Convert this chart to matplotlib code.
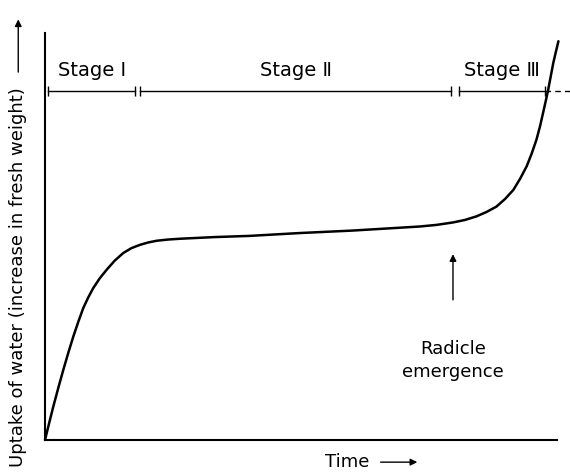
import matplotlib
matplotlib.use("Agg")
import matplotlib.pyplot as plt

# water uptake curve (time, uptake), both on a 0-100 scale
time = [0, 0.8, 1.62, 2.6, 3.57, 4.55, 5.53, 6.5, 7.48, 8.45, 9.43, 10.7, 12.05,
        13.6, 15.29, 16.9, 18.55, 20.2, 21.8, 24.0, 26.4, 33.0, 40.0, 49.8, 60.0,
        73.2, 76.5, 79.7, 82.0, 84.3, 86.3, 88.2, 89.9, 91.5, 92.8, 94.1, 95.1,
        96.0, 96.7, 97.3, 97.8, 98.3, 98.8, 99.3, 99.8, 100.3]
uptake = [0, 4.1, 8.2, 12.8, 17.2, 21.4, 25.4, 29.0, 32.4, 35.0, 37.3, 39.7, 41.8,
          44.0, 45.9, 47.1, 47.9, 48.5, 48.9, 49.2, 49.4, 49.8, 50.1, 50.8, 51.4,
          52.4, 52.8, 53.4, 54.0, 54.9, 56.0, 57.3, 59.2, 61.4, 64.1, 67.2, 70.4,
          73.7, 77.0, 80.3, 83.1, 86.0, 89.3, 92.6, 95.3, 97.9]

# stage bars: label, start, end
stage_labels = ["Stage I", "Stage Ⅱ", "Stage Ⅲ"]
stage_start = [0.6, 18.6, 80.8]
stage_end = [17.6, 79.3, 97.7]
stage_level = 85.6

emergence_time = 79.7

fig = plt.figure(figsize=(5.7, 4.74), dpi=100)
ax = fig.add_axes([0.079, 0.072, 0.898, 0.859])
ax.set_xlim(0, 100)
ax.set_ylim(0, 100)

ax.plot(time, uptake, color="black", lw=1.8, clip_on=False,
        solid_joinstyle="round", solid_capstyle="round")

for lab, s, e in zip(stage_labels, stage_start, stage_end):
    ax.plot([s, e], [stage_level, stage_level], color="black", lw=1.0,
            marker="|", markersize=7, mew=1.0)
    ax.text((s + e) / 2, stage_level + 2.8, lab, ha="center", va="bottom",
            fontsize=14)
# dashed continuation after stage III
ax.plot([stage_end[-1], 102.5], [stage_level, stage_level], color="black",
        lw=1.0, ls=(0, (4, 3)), clip_on=False)

# radicle emergence
ax.annotate("", xy=(emergence_time, 46.3), xytext=(emergence_time, 33.7),
            arrowprops=dict(arrowstyle="-|>", color="black", lw=1.0,
                            mutation_scale=10))
ax.text(emergence_time, 24.5, "Radicle\nemergence", ha="center", va="top",
        fontsize=13, linespacing=1.35)

for side in ["top", "right"]:
    ax.spines[side].set_visible(False)
for side in ["left", "bottom"]:
    ax.spines[side].set_linewidth(1.5)
ax.set_xticks([])
ax.set_yticks([])

# axis labels with arrows
fig.text(0.032, 0.415, "Uptake of water (increase in fresh weight)", rotation=90,
         ha="center", va="center", fontsize=13)
fig.add_artist(matplotlib.patches.FancyArrowPatch(
    (0.032, 0.842), (0.032, 0.965), transform=fig.transFigure,
    arrowstyle="-|>", mutation_scale=10, color="black", lw=1.0))
fig.text(0.609, 0.025, "Time", ha="center", va="center", fontsize=13)
fig.add_artist(matplotlib.patches.FancyArrowPatch(
    (0.663, 0.025), (0.737, 0.025), transform=fig.transFigure,
    arrowstyle="-|>", mutation_scale=10, color="black", lw=1.0))

fig.savefig("out.png", dpi=100, facecolor="white")
